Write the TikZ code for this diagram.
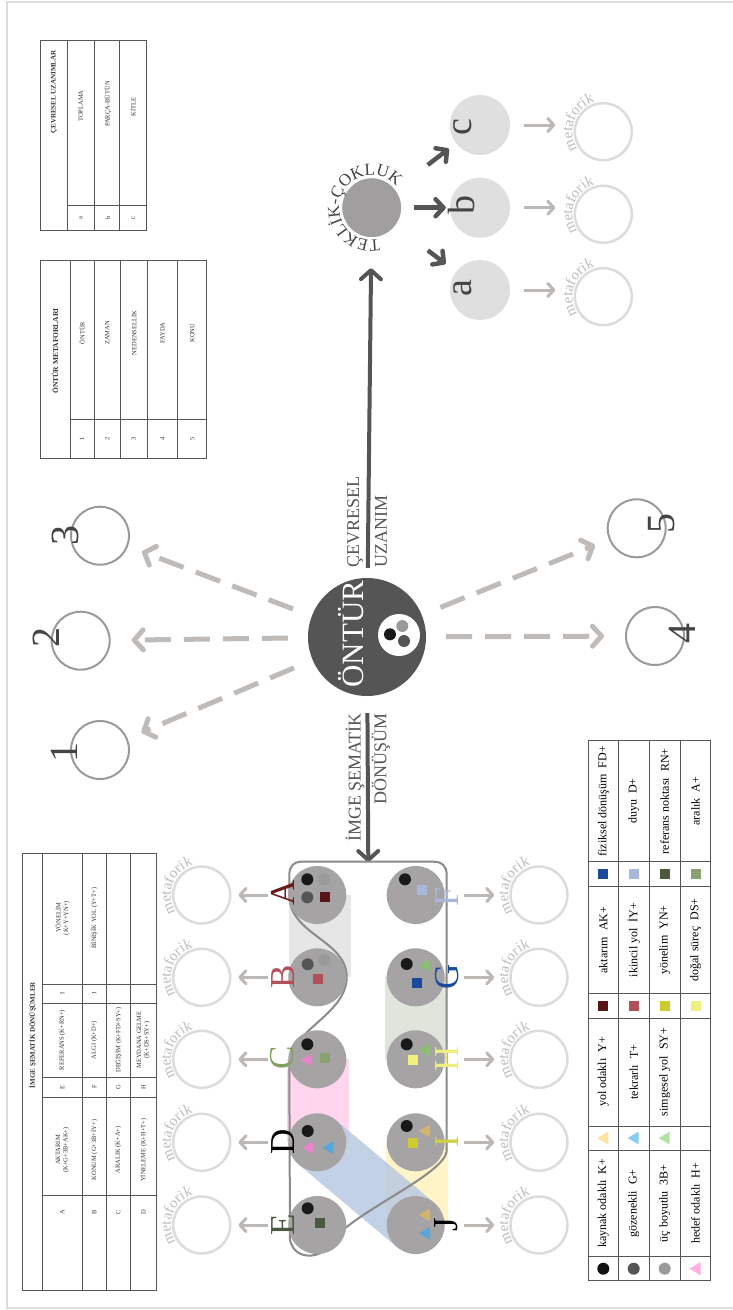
\documentclass[tikz,border=0pt]{standalone}
\usepackage{fontspec}
\setmainfont{Liberation Serif}
\usetikzlibrary{arrows.meta,decorations.text}
\definecolor{dk}{HTML}{555555}
\definecolor{tx}{HTML}{444444}
\definecolor{tbt}{HTML}{333333}
\definecolor{gcol}{HTML}{A5A3A3}
\definecolor{tekc}{HTML}{A09E9E}
\definecolor{abcc}{HTML}{E0DFDF}
\definecolor{numc}{HTML}{9A9A9A}
\definecolor{dashc}{HTML}{BFBBB9}
\definecolor{larrc}{HTML}{BCB8B6}
\definecolor{metat}{HTML}{BDBDBD}
\definecolor{metac}{HTML}{DCDCDC}
\definecolor{framec}{HTML}{DDDDDD}
\definecolor{tline}{HTML}{555555}
\definecolor{gframe}{HTML}{8A8A8A}
\definecolor{cdred}{HTML}{5A1518}
\definecolor{cred}{HTML}{B0505A}
\definecolor{colive}{HTML}{8AA070}
\definecolor{cdolive}{HTML}{4A5A40}
\definecolor{clblue}{HTML}{A8B8DD}
\definecolor{cdblue}{HTML}{1A4A99}
\definecolor{cpyel}{HTML}{F0F080}
\definecolor{cygreen}{HTML}{CCCC30}
\definecolor{tpink}{HTML}{E884C8}
\definecolor{tblue}{HTML}{5AA6DC}
\definecolor{tgreen}{HTML}{88C070}
\definecolor{ttan}{HTML}{D4B46C}
\definecolor{lpink}{HTML}{FFB0E0}
\definecolor{lyel}{HTML}{FFE4A0}
\definecolor{lblue}{HTML}{88CCF4}
\definecolor{lgreen}{HTML}{B4E2A4}
\definecolor{bandgray}{HTML}{E6E6E6}
\definecolor{bandpink}{HTML}{FFD6EE}
\definecolor{bandgreen}{HTML}{DFE5DA}
\definecolor{bandyel}{HTML}{FFF4C8}
\definecolor{bandblue}{HTML}{B4C6E2}
\definecolor{la}{HTML}{6B1A1A}
\definecolor{lb}{HTML}{B05058}
\definecolor{lc}{HTML}{80A060}
\definecolor{le}{HTML}{4A5A40}
\definecolor{lf}{HTML}{A8B8DD}
\definecolor{lg}{HTML}{1A4AA0}
\definecolor{lh}{HTML}{EEEE80}
\definecolor{li}{HTML}{D0D040}
\newcommand\fsz[2]{\fontsize{#1}{#2}\selectfont}
\newcommand\mydot[3]{\fill[#3] (#1,#2) circle[radius=6];}
\newcommand\mysq[3]{\fill[#3] ({#1-5},{#2-5}) rectangle ({#1+5},{#2+5});}
\newcommand\mytri[3]{\fill[#3] ({#1-6},#2) -- ({#1+5},{#2-6.5}) -- ({#1+5},{#2+6.5}) -- cycle;}
\newcommand\metatext[2]{\path[decorate,decoration={text along path,text={|\fsz{15}{15}\color{metat}|metaforik},text align=center}] (#1,#2) ++(130:31) arc[start angle=130,end angle=270,radius=31];}
\tikzset{
  rt/.style={rotate=90,inner sep=0pt},
  tbl/.style={draw=tline,line width=0.8},
  ttxt/.style={rt,text=tbt,font=\fsz{6.5}{7.5},align=center},
  thead/.style={rt,text=tbt,font=\fsz{7}{8}\bfseries},
  ltxt/.style={rt,text=black,font=\fsz{12}{13}},
  gc/.style={circle,fill=gcol,minimum size=58,inner sep=0pt},
  numcirc/.style={circle,draw=numc,line width=2,minimum size=58,inner sep=0pt},
  metacirc/.style={circle,draw=metac,line width=2.5,minimum size=57,inner sep=0pt},
  abc/.style={circle,fill=abcc,minimum size=60,inner sep=0pt},
  glet/.style={rt,font=\fsz{35}{35}},
  numlab/.style={rt,text=tx,font=\fsz{40}{40}},
  dasharr/.style={draw=dashc,line width=5,dash pattern=on 26pt off 13pt,-{Straight Barb[length=9pt,width=20pt,round]}},
  darr/.style={draw=dk,line width=4,-{Straight Barb[length=9pt,width=20pt,round]}},
  abcarr/.style={draw=dk,line width=4.5,-{Straight Barb[length=8pt,width=17pt,round]}},
  larr/.style={draw=larrc,line width=3,-{Straight Barb[length=6pt,width=13pt,round]}},
  band/.style={line width=62,line cap=butt}
}
\begin{document}
\begin{tikzpicture}[x=1pt,y=-1pt]
\useasboundingbox (0,0) rectangle (733,1310);
\fill[white] (0,0) rectangle (733,1310);
\draw[framec,line width=2] (733,2) -- (7,2) -- (7,1308) -- (733,1308);

% ---------- table 1: CEVRESEL UZANIMLAR
\draw[tbl] (40.7,40.7) rectangle (146.7,230.7);
\foreach \x in {67.3,94.3,119.3} \draw[tbl] (\x,40.7) -- (\x,230.7);
\draw[tbl] (67.3,205.7) -- (146.7,205.7);
\node[thead] (t1h) at (54,92) {ÇEVRESEL UZANIMLAR};
\node[ttxt] (t1a) at (80.8,218.2) {a};
\node[ttxt] (t1b) at (107.8,218.2) {b};
\node[ttxt] (t1c) at (133,218.2) {c};
\node[ttxt] (t1at) at (80.8,106) {TOPLAMA};
\node[ttxt] (t1bt) at (107.8,104) {PARÇA-BÜTÜN};
\node[ttxt] (t1ct) at (133,107) {KİTLE};

% ---------- table 2: ONTUR METAFORLARI
\draw[tbl] (40,260) rectangle (206.7,458.3);
\foreach \x in {70,94.3,120,147.3,177.7} \draw[tbl] (\x,260) -- (\x,458.3);
\draw[tbl] (70,419) -- (206.7,419);
\node[thead,font=\fsz{7.5}{8}\bfseries] (t2h) at (55,351) {ÖNTÜR METAFORLARI};
\foreach \x/\t/\n [count=\i] in {82/ÖNTÜR/1,107.2/ZAMAN/2,133.6/NEDENSELLİK/3,162.5/FAYDA/4,192.2/KONU/5}{
  \node[ttxt] (t2t\i) at (\x,333) {\t};
  \node[ttxt] (t2n\i) at (\x,438.7) {\n};
}

% ---------- table 3: IMGE SEMATIK DONUSUMLER
\draw[tbl] (22.7,853.3) rectangle (156.7,1290);
\foreach \x in {42.3,82.3,106,130.3} \draw[tbl] (\x,853.3) -- (\x,1290);
\foreach \y in {984,1003,1077,1097,1195} \draw[tbl] (42.3,\y) -- (156.7,\y);
\node[thead] (t3h) at (32.5,1035) {İMGE ŞEMATİK DÖNÜŞÜMLER};
\node[ttxt] (t3A) at (62.3,1212) {A};
\node[ttxt] (t3B) at (94.2,1212) {B};
\node[ttxt] (t3C) at (118.2,1212) {C};
\node[ttxt] (t3D) at (143.5,1212) {D};
\node[ttxt] (t3At) at (62.3,1150) {AKTARIM\\(K+G+3B+AK+)};
\node[ttxt] (t3Bt) at (94.2,1150) {KONUM (G+3B+İY+)};
\node[ttxt] (t3Ct) at (118.2,1150) {ARALIK (K+A+)};
\node[ttxt] (t3Dt) at (143.5,1150) {YİNELEME (K+H+T+)};
\node[ttxt] (t3E) at (62.3,1087) {E};
\node[ttxt] (t3F) at (94.2,1087) {F};
\node[ttxt] (t3G) at (118.2,1087) {G};
\node[ttxt] (t3H) at (143.5,1087) {H};
\node[ttxt] (t3Et) at (62.3,1040) {REFERANS (K+RN+)};
\node[ttxt] (t3Ft) at (94.2,1040) {ALGI (K+D+)};
\node[ttxt] (t3Gt) at (118.2,1040) {DEĞİŞİM (K+FD+SY+)};
\node[ttxt] (t3Ht) at (143.5,1040) {MEYDANA GELME\\(K+DS+SY+)};
\node[ttxt] (t3I) at (62.3,993.5) {I};
\node[ttxt] (t3J) at (94.2,993.5) {J};
\node[ttxt] (t3It) at (62.3,918) {YÖNELİM\\(K+Y+YN+)};
\node[ttxt] (t3Jt) at (94.2,918) {BİNİŞİK YOL (Y+T+)};

% ---------- legend table
\draw[tbl] (588.3,740.7) rectangle (710.7,1280.7);
\foreach \x in {618.3,649,680.3} \draw[tbl] (\x,740.7) -- (\x,1280.7);
\foreach \y in {861.7,886.7,993.3,1018.3,1126,1150,1256.7} \draw[tbl] (588.3,\y) -- (710.7,\y);
\mydot{603.3}{1268.7}{black!93}
\mydot{633.7}{1268.7}{dk}
\mydot{664.7}{1268.7}{numc}
\mytri{695.5}{1268.7}{lpink}
\node[ltxt] (lg1) at (603.3,1203.3) {kaynak odaklı~~K+};
\node[ltxt] (lg2) at (633.7,1203.3) {gözenekli~~G+};
\node[ltxt] (lg3) at (664.7,1203.3) {üç boyutlu~~3B+};
\node[ltxt] (lg4) at (695.5,1203.3) {hedef odaklı~~H+};
\mytri{603.3}{1138}{lyel}
\mytri{633.7}{1138}{lblue}
\mytri{664.7}{1138}{lgreen}
\node[ltxt] (lg5) at (603.3,1072) {yol odaklı~~Y+};
\node[ltxt] (lg6) at (633.7,1072) {tekrarlı~~T+};
\node[ltxt] (lg7) at (664.7,1072) {simgesel yol~~SY+};
\mysq{603.3}{1005.8}{cdred}
\mysq{633.7}{1005.8}{cred}
\mysq{664.7}{1005.8}{cygreen}
\mysq{695.5}{1005.8}{cpyel}
\node[ltxt] (lg8) at (603.3,940) {aktarım~~AK+};
\node[ltxt] (lg9) at (633.7,940) {ikincil yol~~İY+};
\node[ltxt] (lg10) at (664.7,940) {yönelim~~YN+};
\node[ltxt] (lg11) at (695.5,940) {doğal süreç~~DS+};
\mysq{603.3}{874.2}{cdblue}
\mysq{633.7}{874.2}{clblue}
\mysq{664.7}{874.2}{cdolive}
\mysq{695.5}{874.2}{colive}
\node[ltxt] (lg12) at (603.3,801.2) {fiziksel dönüşüm~~FD+};
\node[ltxt] (lg13) at (633.7,801.2) {duyu~~D+};
\node[ltxt] (lg14) at (664.7,801.2) {referans noktası~~RN+};
\node[ltxt] (lg15) at (695.5,801.2) {aralık~~A+};

% ---------- ONTUR centre
\node[circle,fill=dk,minimum size=118,inner sep=0pt] (ont) at (367,637) {};
\node[rt,text=white,font=\fsz{31}{31}] (onttxt) at (351,634) {ÖNTÜR};
\node[circle,fill=white,minimum size=42,inner sep=0pt] (ontin) at (399,635) {};
\mydot{390}{634.3}{black!90}
\mydot{402.3}{626}{numc}
\mydot{404}{641}{dk}

% numbered circles
\node[numcirc] (n1) at (100,750) {};
\node[numcirc] (n2) at (80.7,640.7) {};
\node[numcirc] (n3) at (100,535.7) {};
\node[numcirc] (n4) at (655,636) {};
\node[numcirc] (n5) at (636.7,528.3) {};
\node[numlab] (l1) at (64,752) {1};
\node[numlab] (l2) at (46,637) {2};
\node[numlab] (l3) at (65,535) {3};
\node[numlab] (l4) at (682,633) {4};
\node[numlab] (l5) at (661.7,523) {5};
\draw[dasharr,shorten <=20,shorten >=15] (ont) -- (n1);
\draw[dasharr,shorten <=20,shorten >=21] (ont) -- (n2);
\draw[dasharr,shorten <=20,shorten >=15] (ont) -- (n3);
\draw[dasharr,shorten <=20,shorten >=21] (ont) -- (n4);
\draw[dasharr,shorten <=20,shorten >=15] (ont) -- (n5);

% ---------- TEKLIK-COKLUK
\node[circle,fill=tekc,draw=white,line width=1,minimum size=60,inner sep=0pt] (tek) at (371.7,207.7) {};
\path[decorate,decoration={text along path,text={|\fsz{17}{17}\color{tx}|TEKLİK-ÇOKLUK},text align=center}] (371.7,207.7) ++(70:32.5) arc[start angle=70,end angle=326,radius=32.5];
\draw[darr,shorten <=10,shorten >=30] (ont) -- (tek);
\node[rt,text=dk,font=\fsz{18}{18},anchor=west] (cev) at (355,568) {ÇEVRESEL};
\node[rt,text=dk,font=\fsz{18}{18},anchor=west] (uza) at (381,568) {UZANIM};

\node[abc] (ca) at (480,290) {};
\node[abc] (cb) at (480,207.7) {};
\node[abc] (cc) at (480,125) {};
\node[rt,text=tx,font=\fsz{38}{38}] (la) at (462.5,288) {a};
\node[rt,text=tx,font=\fsz{38}{38}] (lb) at (461,205) {b};
\node[rt,text=tx,font=\fsz{38}{38}] (lc) at (462.5,127) {c};
\draw[abcarr,shorten <=40,shorten >=13] (tek) -- (ca);
\draw[abcarr,shorten <=12,shorten >=4] (tek) -- (cb);
\draw[abcarr,shorten <=40,shorten >=9] (tek) -- (cc);
\node[metacirc] (ma) at (603.3,296.7) {};
\node[metacirc] (mb) at (603.3,214.3) {};
\node[metacirc] (mc) at (603.3,131.7) {};
\metatext{603.3}{296.7}
\metatext{603.3}{214.3}
\metatext{603.3}{131.7}
\draw[larr,shorten <=14,shorten >=48] (ca) -- (ca -| ma);
\draw[larr,shorten <=14,shorten >=48] (cb) -- (cb -| mb);
\draw[larr,shorten <=14,shorten >=48] (cc) -- (cc -| mc);

% ---------- IMGE SEMATIK arrow
\coordinate (gtop) at (368.3,862);
\draw[darr,shorten <=17] (ont) -- (gtop);
\node[rt,text=dk,font=\fsz{18}{18},anchor=east] (img) at (355,713) {İMGE ŞEMATİK};
\node[rt,text=dk,font=\fsz{18}{18},anchor=east] (don) at (381,713) {DÖNÜŞÜM};

% ---------- grid bands
\draw[band,bandgray] (319.5,895) -- (319.5,977.3);
\draw[band,bandpink] (318.3,1059.3) -- (318.3,1142.3);
\draw[band,bandgreen] (415.5,977.3) -- (415.5,1059.3);
\draw[band,bandyel] (416.5,1142.3) -- (416.5,1225);
\draw[line width=58,line cap=butt,bandblue,opacity=0.8] (317.3,1142.3) -- (415.7,1225);

% frame path
\draw[gframe,line width=2] (301,861.7) -- (434,861.7) .. controls (442,861.7) and (446.7,866) .. (446.7,875) -- (446.7,1150) .. controls (446.7,1175) and (345,1215) .. (330,1245) .. controls (322,1258) and (295,1262) .. (290,1240) -- (289.3,1065) .. controls (289.3,1030) and (346.7,1015) .. (346.7,977) .. controls (346.7,940) and (289.3,935) .. (289.3,895) -- (289.3,875) .. controls (289.3,866) and (294,861.7) .. (301,861.7) -- cycle;

% grid circles
\node[gc] (gA) at (317.3,895) {};
\node[gc] (gB) at (317.3,977.3) {};
\node[gc] (gC) at (317.3,1059.3) {};
\node[gc] (gD) at (317.3,1142.3) {};
\node[gc] (gE) at (317.3,1225) {};
\node[gc] (gF) at (415.7,895) {};
\node[gc] (gG) at (415.7,977.3) {};
\node[gc] (gH) at (415.7,1059.3) {};
\node[gc] (gI) at (415.7,1142.3) {};
\node[gc] (gJ) at (415.7,1225) {};

% contents
\mydot{307.3}{879.3}{black!90}\mydot{324}{879.3}{numc}\mydot{307.3}{897.3}{dk}\mysq{324.7}{897.3}{cdred}
\mydot{307.7}{964.3}{dk}\mydot{324.3}{960}{numc}\mysq{318.3}{979.3}{cred}
\mydot{307.3}{1044.3}{black!90}\mytri{306.7}{1060}{tpink}\mysq{325}{1057.7}{colive}
\mydot{307.7}{1131}{black!90}\mytri{308.3}{1147.7}{tpink}\mytri{328.3}{1147.7}{tblue}
\mydot{307.7}{1208.3}{black!90}\mysq{320}{1223.3}{cdolive}
\mydot{405}{879.3}{black!90}\mysq{421.7}{890}{clblue}
\mydot{406.7}{964}{black!90}\mytri{425}{965.7}{tgreen}\mysq{416.7}{982.7}{cdblue}
\mydot{406.7}{1044.3}{black!90}\mytri{425}{1050}{tgreen}\mysq{412.7}{1060}{cpyel}
\mydot{406.7}{1126}{black!90}\mytri{425}{1131}{ttan}\mysq{412.7}{1142.7}{cygreen}
\mytri{425}{1215}{ttan}\mytri{425}{1233.3}{tblue}

% grid letters
\node[glet,text=la] (lA) at (283.3,893.3) {A};
\node[glet,text=lb] (lB) at (283.3,976.7) {B};
\node[glet,text=lc] (lC) at (281.7,1057.7) {C};
\node[glet,text=black] (lD) at (283.3,1141.7) {D};
\node[glet,text=le] (lE) at (283.3,1224.3) {E};
\node[glet,text=lf] (lF) at (446.7,896.7) {F};
\node[glet,text=lg] (lG) at (446.7,976.7) {G};
\node[glet,text=lh] (lH) at (446.7,1059) {H};
\node[glet,text=li] (lI) at (446.7,1141.7) {I};
\node[glet,text=black] (lJ) at (446.7,1225) {J};

% metaforik circles around grid
\foreach \n/\y in {A/895,B/977.3,C/1059.3,D/1142.3,E/1225}{
  \node[metacirc] (m\n) at (201.7,\y) {};
  \metatext{201.7}{\y}
  \draw[larr,shorten <=20,shorten >=7] (g\n) -- (m\n);
}
\foreach \n/\y in {F/895,G/977.3,H/1059.3,I/1142.3,J/1225}{
  \node[metacirc] (m\n) at (539,\y) {};
  \metatext{539}{\y}
  \draw[larr,shorten <=18.6,shorten >=15] (g\n) -- (m\n);
}
\end{tikzpicture}
\end{document}
